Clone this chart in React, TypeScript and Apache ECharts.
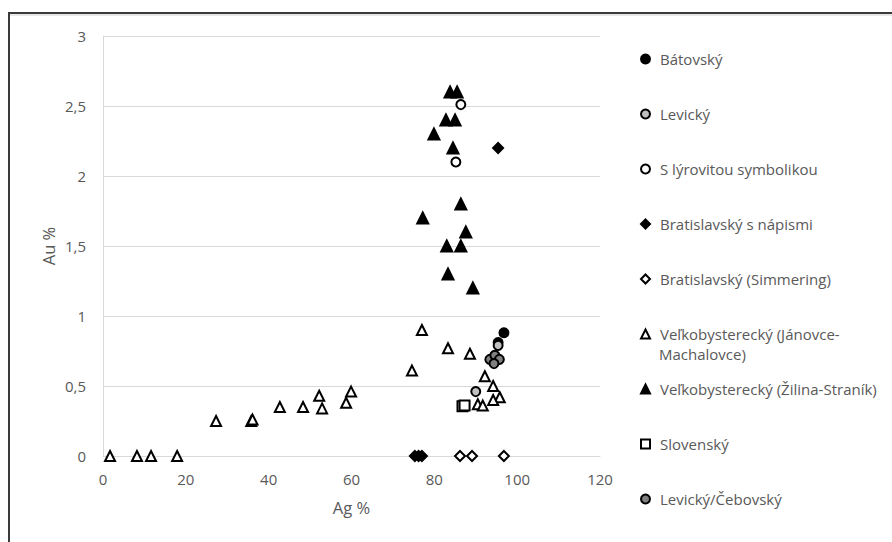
import React, { useEffect, useRef } from "react";
import * as echarts from "echarts";

const xTicks = { min: 0, max: 120, interval: 20 };
const yTicks = { min: 0, max: 3, interval: 0.5 };

const seriesNames = [
  "Bátovský",
  "Levický",
  "S lýrovitou symbolikou",
  "Bratislavský s nápismi",
  "Bratislavský (Simmering)",
  "Veľkobysterecký (Jánovce-Machalovce)",
  "Veľkobysterecký (Žilina-Straník)",
  "Slovenský",
  "Levický/Čebovský",
];
// the long legend entry is wrapped after the hyphen, as in the reference
const wrappedName = "Veľkobysterecký (Jánovce-Machalovce)";
const wrappedLines = ["Veľkobysterecký (Jánovce-", "Machalovce)"];

const batovsky = [[96.8, 0.88], [95.4, 0.81]];
const levicky = [[95.4, 0.79], [90.0, 0.46]];
const lyrovita = [[86.4, 2.51], [85.2, 2.1]];
const bratislavskyNapisy = [[95.4, 2.2], [75.3, 0], [76.2, 0], [77.0, 0]];
const bratislavskySimmering = [[86.2, 0], [89.1, 0], [96.8, 0]];
const janovce = [
  [1.7, 0], [8.2, 0], [11.6, 0], [17.9, 0],
  [27.3, 0.25], [35.8, 0.25], [36.1, 0.26],
  [42.7, 0.35], [48.3, 0.35], [52.2, 0.43], [52.9, 0.34],
  [58.7, 0.38], [59.9, 0.46],
  [74.6, 0.61], [77.0, 0.9], [83.3, 0.77], [88.6, 0.73],
  [92.2, 0.57], [94.2, 0.5], [95.8, 0.42], [94.2, 0.4],
  [90.5, 0.37], [91.7, 0.36],
];
const zilina = [
  [83.8, 2.6], [85.5, 2.6], [82.8, 2.4], [85.0, 2.4], [79.9, 2.3],
  [84.5, 2.2], [86.4, 1.8], [77.2, 1.7], [87.6, 1.6], [83.0, 1.5],
  [86.4, 1.5], [83.3, 1.3], [89.3, 1.2],
];
const slovensky = [[86.8, 0.355], [87.3, 0.36]];
const cebovsky = [[93.4, 0.69], [94.6, 0.72], [95.7, 0.69], [94.4, 0.66]];

const seriesData = [
  batovsky, levicky, lyrovita, bratislavskyNapisy, bratislavskySimmering,
  janovce, zilina, slovensky, cebovsky,
];

const seriesStyle = [
  { symbol: "circle", size: 9, fill: "#000000" },
  { symbol: "circle", size: 9, fill: "#c0c0c0" },
  { symbol: "circle", size: 9, fill: "#ffffff" },
  { symbol: "diamond", size: 10, fill: "#000000" },
  { symbol: "diamond", size: 10, fill: "#ffffff" },
  { symbol: "triangle", size: 10, fill: "#ffffff" },
  { symbol: "triangle", size: 11, fill: "#000000" },
  { symbol: "rect", size: 10, fill: "#ffffff" },
  { symbol: "circle", size: 9, fill: "#808080" },
];

const FONT = "'Open Sans'";
const TEXT = "#595959";

export default function App() {
  const ref = useRef<HTMLDivElement>(null);
  useEffect(() => {
    if (!ref.current) return;
    const chart = echarts.init(ref.current, null, { renderer: "svg" });
    const LEG_LEFT = 640;
    const LEG_TOP = 59;
    const LEG_STEP = 55;
    const LEG_FONT = 15;
    const legends = seriesNames.map((name, i) => ({
      data: [name],
      orient: "vertical",
      left: LEG_LEFT,
      top: LEG_TOP + i * LEG_STEP - 9,
      itemWidth: 9,
      itemHeight: 9,
      symbolKeepAspect: true,
      padding: 0,
      formatter: (n: string) => (n === wrappedName ? wrappedLines[0] : n),
      textStyle: {
        color: TEXT,
        fontFamily: FONT,
        fontSize: LEG_FONT,
        lineHeight: 18,
        padding: [0, 0, 0, 5],
      },
      selectedMode: false,
    }));
    const wrapIndex = seriesNames.indexOf(wrappedName);
    chart.setOption({
      animation: false,
      backgroundColor: "#ffffff",
      textStyle: { fontFamily: FONT },
      graphic: [
        {
          type: "rect",
          shape: { x: 9, y: 13, width: 920, height: 600 },
          style: { fill: "none", stroke: "#3a3a3a", lineWidth: 2 },
          silent: true,
        },
        {
          type: "line",
          shape: { x1: 10, y1: 15, x2: 892, y2: 15 },
          style: { stroke: "#d0d0d0", lineWidth: 1 },
          silent: true,
        },
        {
          type: "text",
          x: LEG_LEFT + 19,
          y: LEG_TOP + wrapIndex * LEG_STEP + 20,
          style: {
            text: wrappedLines[1],
            fill: TEXT,
            fontFamily: FONT,
            fontSize: LEG_FONT,
            verticalAlign: "middle",
            align: "left",
          },
          silent: true,
        },
      ],
      grid: { left: 103, right: 292, top: 36, bottom: 86, containLabel: false },
      xAxis: {
        type: "value",
        min: xTicks.min,
        max: xTicks.max,
        interval: xTicks.interval,
        name: "Ag %",
        nameLocation: "middle",
        nameGap: 43,
        nameMoveOverlap: false,
        nameTextStyle: { color: TEXT, fontFamily: FONT, fontSize: 16.5 },
        axisLine: { show: true, lineStyle: { color: "#d9d9d9" } },
        axisTick: { show: false },
        axisLabel: { color: TEXT, fontFamily: FONT, fontSize: 15, margin: 15 },
        splitLine: { show: false },
      },
      yAxis: {
        type: "value",
        min: yTicks.min,
        max: yTicks.max,
        interval: yTicks.interval,
        name: "Au %",
        nameLocation: "middle",
        nameGap: 46,
        nameRotate: 90,
        nameMoveOverlap: false,
        nameTextStyle: { color: TEXT, fontFamily: FONT, fontSize: 16.5 },
        axisLine: { show: true, lineStyle: { color: "#d9d9d9" } },
        axisTick: { show: false },
        axisLabel: {
          color: TEXT,
          fontFamily: FONT,
          fontSize: 15,
          margin: 17,
          formatter: (v: number) => String(v).replace(".", ","),
        },
        splitLine: { show: true, lineStyle: { color: "#d9d9d9" } },
      },
      legend: legends,
      series: seriesNames.map((name, i) => ({
        type: "scatter",
        name,
        data: seriesData[i],
        symbol: seriesStyle[i].symbol,
        symbolSize: seriesStyle[i].size,
        itemStyle: {
          color: seriesStyle[i].fill,
          borderColor: "#000000",
          borderWidth: 2,
          opacity: 1,
        },
        emphasis: { disabled: true },
      })),
    });
    return () => chart.dispose();
  }, []);
  return (
    <div
      ref={ref}
      style={{ position: "fixed", left: 0, top: 0, width: 892, height: 542 }}
    />
  );
}
